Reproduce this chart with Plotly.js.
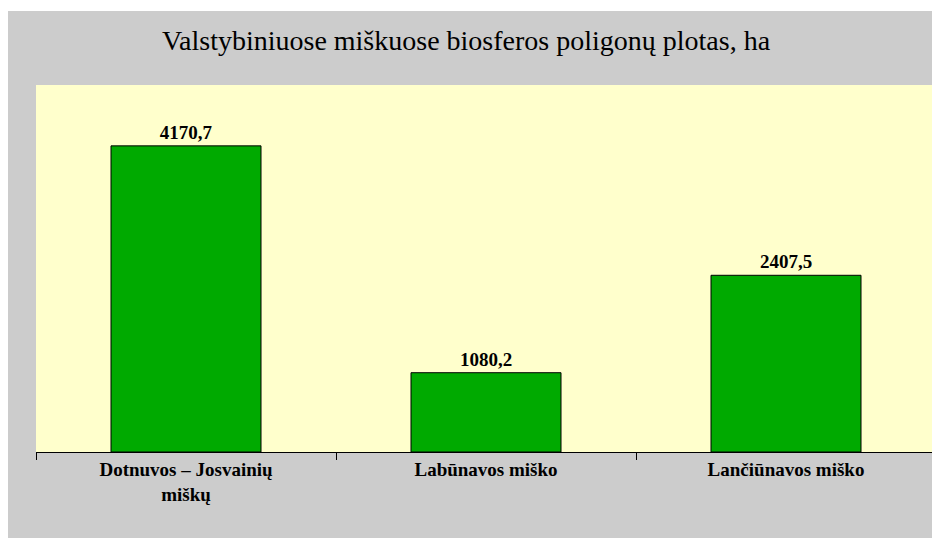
<!DOCTYPE html>
<html>
<head>
<meta charset="utf-8">
<script src="https://cdn.plot.ly/plotly-3.0.1.min.js"></script>
<style>
html,body{margin:0;padding:0;background:#ffffff;overflow:hidden;width:932px;height:538px;}
#chart{position:absolute;left:8px;top:11px;width:930px;height:527px;}
</style>
</head>
<body>
<div id="chart"></div>
<script>
const categories = ["Dotnuvos – Josvainių<br>miškų", "Labūnavos miško", "Lančiūnavos miško"];
const areas = [4170.7, 1080.2, 2407.5];
const chartTitle = "Valstybiniuose miškuose biosferos poligonų plotas, ha";

const trace = {
  type: "bar",
  x: categories,
  y: areas,
  marker: {color: "#00aa00", line: {color: "#000000", width: 1}},
  texttemplate: "%{y:.1f}",
  textposition: "outside",
  cliponaxis: false,
  textfont: {family: "Liberation Serif, Times New Roman, serif", size: 19, color: "#000000", weight: "bold"},
  hoverinfo: "x+y"
};

const layout = {
  width: 930,
  height: 527,
  separators: ", ",
  paper_bgcolor: "#cccccc",
  plot_bgcolor: "#ffffcc",
  margin: {l: 28, r: 2, t: 74, b: 86},
  bargap: 0.5,
  showlegend: false,
  title: {
    text: chartTitle,
    font: {family: "Liberation Serif, Times New Roman, serif", size: 28, color: "#000000"},
    x: 0.4925, xanchor: "center",
    yref: "container", y: 0.945, yanchor: "middle"
  },
  xaxis: {
    type: "category",
    showline: true, linecolor: "#000000", linewidth: 1,
    ticks: "outside", tickson: "boundaries", ticklen: 7, tickcolor: "#000000",
    tickfont: {family: "Liberation Serif, Times New Roman, serif", size: 19, color: "#000000", weight: "bold"},
    showgrid: false, zeroline: false, fixedrange: true
  },
  yaxis: {
    range: [0, 5000],
    visible: false, showgrid: false, zeroline: false, fixedrange: true
  }
};

Plotly.newPlot("chart", [trace], layout, {displayModeBar: false, staticPlot: true});
</script>
</body>
</html>
